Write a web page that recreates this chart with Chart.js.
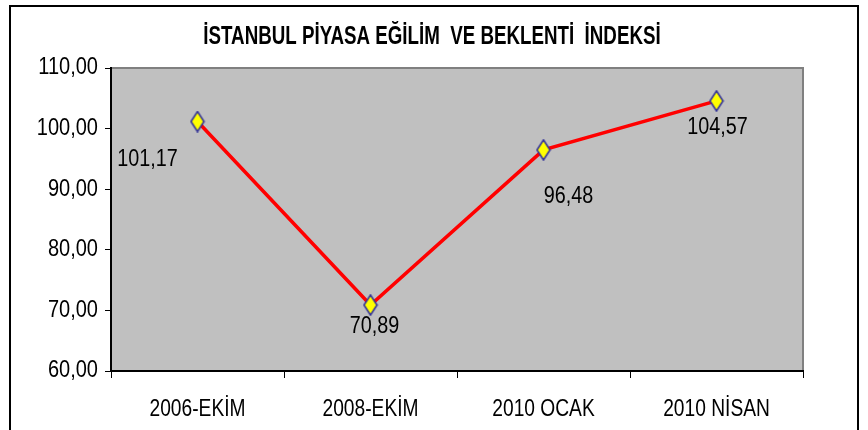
<!DOCTYPE html>
<html>
<head>
<meta charset="utf-8">
<script src="https://cdn.jsdelivr.net/npm/chart.js@4.4.1/dist/chart.umd.min.js"></script>
<style>
  body { margin: 0; background: #fff; overflow: hidden; }
  #frame {
    position: absolute; left: 9px; top: 5px;
    width: 846px; height: 440px;
    border: 2px solid #000;
  }
  #wrap { position: absolute; left: 0; top: 0; width: 868px; height: 430px; }
</style>
</head>
<body>
<div id="frame"></div>
<div id="wrap"><canvas id="chart"></canvas></div>
<script>
// veriler
const categories = ['2006-EKİM', '2008-EKİM', '2010 OCAK', '2010 NİSAN'];
const indexValues = [101.17, 70.89, 96.48, 104.57];
const yTicks = [60, 70, 80, 90, 100, 110];

const chartTitle = 'İSTANBUL PİYASA EĞİLİM  VE BEKLENTİ  İNDEKSİ';
const FONT = '"Liberation Sans", Arial, sans-serif';

function trNum(v) {
    return v.toFixed(2).replace('.', ',');
}

// Excel'deki dar/uzun yazıyı taklit etmek için yatay sıkıştırılmış metin
function squeezedText(ctx, text, x, y, size, bold, sx, align) {
    ctx.save();
    ctx.translate(x, y);
    ctx.scale(sx, 1);
    ctx.font = (bold ? 'bold ' : '') + size + 'px ' + FONT;
    ctx.fillStyle = '#000';
    ctx.textAlign = align;
    ctx.textBaseline = 'middle';
    ctx.fillText(text, 0, 0);
    ctx.restore();
}

// uzun baklava işaretçi
function diamond() {
    const w = 16, h = 22;
    const c = document.createElement('canvas');
    c.width = w; c.height = h;
    const g = c.getContext('2d');
    g.beginPath();
    g.moveTo(w / 2, 1);
    g.lineTo(w - 1.5, h / 2);
    g.lineTo(w / 2, h - 1);
    g.lineTo(1.5, h / 2);
    g.closePath();
    g.fillStyle = '#ffff00';
    g.fill();
    g.strokeStyle = '#333399';
    g.lineWidth = 1.6;
    g.stroke();
    return c;
}

// gri arka plan + çerçeve
const plotBg = {
    id: 'plotBg',
    beforeDraw(chart) {
        const { ctx, chartArea: a } = chart;
        ctx.save();
        ctx.fillStyle = '#c0c0c0';
        ctx.fillRect(a.left, a.top, a.width, a.height);
        ctx.strokeStyle = '#808080';
        ctx.lineWidth = 2;
        ctx.beginPath();
        ctx.moveTo(a.left, a.top);
        ctx.lineTo(a.right, a.top);
        ctx.lineTo(a.right, a.bottom);
        ctx.stroke();
        ctx.restore();
    }
};

// başlık, eksen yazıları ve değer etiketleri
const labelOffsets = [[-50, 38], [4, 22], [25, 47], [1, 27]];
const texts = {
    id: 'texts',
    afterDraw(chart) {
        const { ctx, chartArea: a, scales } = chart;
        squeezedText(ctx, chartTitle, (a.left + a.right) / 2 - 25, 37, 25, true, 0.75, 'center');

        yTicks.forEach(v => {
            squeezedText(ctx, trNum(v), a.left - 13, scales.y.getPixelForValue(v), 23, false, 0.87, 'right');
        });
        categories.forEach((c, i) => {
            squeezedText(ctx, c, scales.x.getPixelForValue(i), a.bottom + 38, 24, false, 0.8, 'center');
        });

        const meta = chart.getDatasetMeta(0);
        meta.data.forEach((pt, i) => {
            const off = labelOffsets[i];
            squeezedText(ctx, trNum(indexValues[i]), pt.x + off[0], pt.y + off[1], 23, false, 0.86, 'center');
        });
    }
};

new Chart(document.getElementById('chart'), {
    type: 'line',
    data: {
        labels: categories,
        datasets: [{
            data: indexValues,
            borderColor: '#ff0000',
            borderWidth: 3.5,
            pointStyle: diamond(),
            pointRadius: 8,
            pointHoverRadius: 8,
            tension: 0
        }]
    },
    options: {
        responsive: true,
        maintainAspectRatio: false,
        animation: false,
        layout: { padding: { left: 105, right: 65, top: 68, bottom: 52 } },
        plugins: {
            legend: { display: false },
            tooltip: { enabled: false },
            title: { display: false }
        },
        scales: {
            x: {
                offset: true,
                grid: { offset: true, drawOnChartArea: false, drawTicks: true, tickLength: 7, color: '#000' },
                border: { display: true, color: '#000', width: 2 },
                ticks: { display: false }
            },
            y: {
                min: 60,
                max: 110,
                afterBuildTicks(axis) {
                    axis.ticks = yTicks.map(v => ({ value: v }));
                },
                grid: { drawOnChartArea: false, drawTicks: true, tickLength: 6, color: '#000' },
                border: { display: true, color: '#000', width: 2 },
                ticks: { display: false }
            }
        }
    },
    plugins: [plotBg, texts]
});
</script>
</body>
</html>
